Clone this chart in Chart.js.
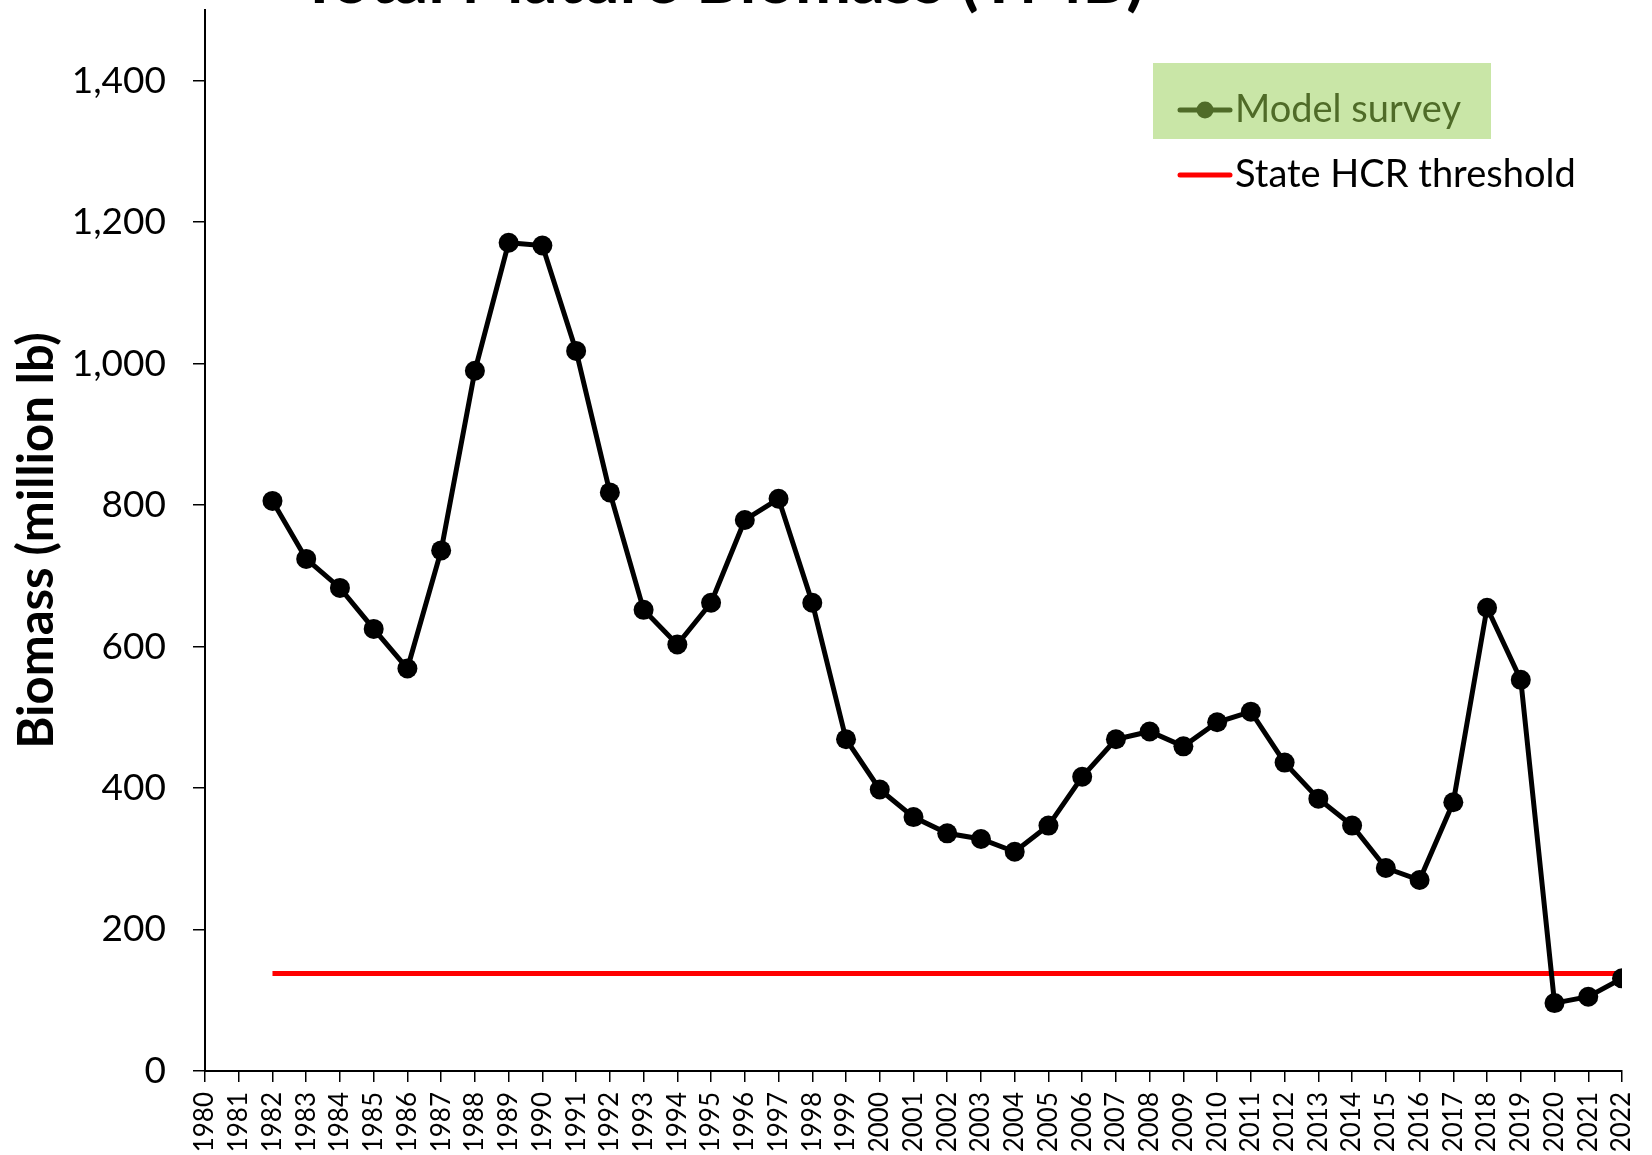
<!DOCTYPE html>
<html>
<head>
<meta charset="utf-8">
<script src="https://cdn.jsdelivr.net/npm/chart.js@4.4.1/dist/chart.umd.min.js"></script>
<style>
  html, body { margin: 0; padding: 0; background: #fff; }
  #wrap { position: relative; width: 1652px; height: 1155px; }
</style>
</head>
<body>
<div id="wrap"><canvas id="tmbChart" width="1652" height="1155"></canvas></div>
<script>
const years     = [1982, 1983, 1984, 1985, 1986, 1987, 1988, 1989, 1990, 1991,
                   1992, 1993, 1994, 1995, 1996, 1997, 1998, 1999, 2000, 2001,
                   2002, 2003, 2004, 2005, 2006, 2007, 2008, 2009, 2010, 2011,
                   2012, 2013, 2014, 2015, 2016, 2017, 2018, 2019, 2020, 2021, 2022];
const biomass   = [806, 724, 683, 625, 569, 736, 990, 1171, 1167, 1018,
                   818, 652, 603, 662, 779, 809, 662, 469, 398, 359,
                   336, 328, 310, 347, 416, 469, 480, 459, 493, 508,
                   436, 385, 347, 287, 270, 380, 655, 553, 96, 105, 131];
const hcrYears  = [1982, 2022];
const hcrValues = [138, 138];
const yTicks    = [0, 200, 400, 600, 800, 1000, 1200, 1400];

const FONT = 'Lato';
const TITLE = 'Total Mature Biomass (TMB)';

// title sits mostly above the canvas, only its lower part shows
const titlePlugin = {
  id: 'cutTitle',
  afterDraw(chart) {
    const c = chart.ctx;
    c.save();
    c.font = `bold 67px ${FONT}`;
    c.fillStyle = '#000';
    c.textAlign = 'center';
    c.textBaseline = 'alphabetic';
    c.fillText(TITLE, 722, 3);
    c.restore();
  },
};

const legendPlugin = {
  id: 'boxLegend',
  afterDraw(chart) {
    const c = chart.ctx;
    c.save();
    c.fillStyle = '#c9e6a7';
    c.fillRect(1153, 63, 338, 76);

    // Model survey
    c.strokeStyle = '#4f6b28';
    c.lineWidth = 5;
    c.lineCap = 'round';
    c.beginPath(); c.moveTo(1180, 110); c.lineTo(1230, 110); c.stroke();
    c.fillStyle = '#4f6b28';
    c.beginPath(); c.arc(1205, 110, 8.5, 0, Math.PI * 2); c.fill();
    c.font = `38px ${FONT}`;
    c.textBaseline = 'middle';
    c.fillText('Model survey', 1235, 110);

    // State HCR threshold
    c.strokeStyle = '#ff0000';
    c.beginPath(); c.moveTo(1180, 175); c.lineTo(1230, 175); c.stroke();
    c.fillStyle = '#000';
    c.fillText('State HCR threshold', 1235, 175);
    c.restore();
  },
};

const ctx = document.getElementById('tmbChart').getContext('2d');
new Chart(ctx, {
  type: 'line',
  data: {
    datasets: [
      {
        label: 'Model survey',
        data: years.map((y, i) => ({ x: y, y: biomass[i] })),
        borderColor: '#000',
        backgroundColor: '#000',
        borderWidth: 5,
        pointRadius: 10,
        pointBorderWidth: 0,
        pointBackgroundColor: '#000',
        tension: 0,
      },
      {
        label: 'State HCR threshold',
        data: hcrYears.map((y, i) => ({ x: y, y: hcrValues[i] })),
        borderColor: '#ff0000',
        borderWidth: 5,
        pointRadius: 0,
        tension: 0,
      },
    ],
  },
  options: {
    responsive: false,
    animation: false,
    layout: { padding: { top: 3, right: 30, left: 0, bottom: 0 } },
    plugins: {
      legend: { display: false },
      tooltip: { enabled: false },
    },
    scales: {
      x: {
        type: 'linear',
        min: 1980,
        max: 2022,
        afterBuildTicks: s => { s.ticks = []; for (let y = 1980; y <= 2022; y++) s.ticks.push({ value: y }); },
        afterFit: s => { s.height = 84; s.paddingLeft = 0; s.paddingRight = 0; },
        border: { color: '#000', width: 2 },
        grid: { drawOnChartArea: false, color: '#000', lineWidth: 1.5, tickLength: 11 },
        ticks: {
          autoSkip: false,
          minRotation: 90,
          maxRotation: 90,
          padding: 10,
          color: '#000',
          font: { family: FONT, size: 26 },
          callback: v => String(v),
        },
      },
      y: {
        min: 0,
        max: 1500,
        afterBuildTicks: s => { s.ticks = yTicks.map(v => ({ value: v })); },
        afterFit: s => { s.width = 205; s.paddingTop = 0; s.paddingBottom = 0; },
        border: { color: '#000', width: 2 },
        grid: { drawOnChartArea: false, color: '#000', lineWidth: 1.5, tickLength: 12 },
        ticks: {
          padding: 27,
          color: '#000',
          font: { family: FONT, size: 37 },
          callback: v => Number(v).toLocaleString('en-US'),
        },
        title: {
          display: true,
          text: 'Biomass (million lb)',
          color: '#000',
          font: { family: FONT, size: 49, weight: 'bold' },
          padding: { top: 8, bottom: 0 },
        },
      },
    },
  },
  plugins: [titlePlugin, legendPlugin],
});
</script>
</body>
</html>
